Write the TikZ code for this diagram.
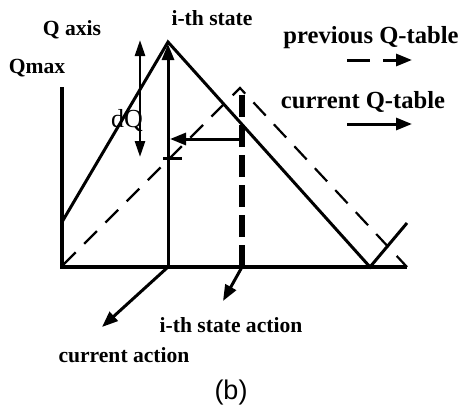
\documentclass[tikz,border=0pt]{standalone}
\usepackage{fontspec}
\setmainfont{Liberation Serif}
\setsansfont{Liberation Sans}
\usetikzlibrary{arrows.meta}
\begin{document}
\begin{tikzpicture}[x=0.5pt, y=-0.5pt,
    lbl/.style={font=\bfseries\fontsize{10.8}{12}\selectfont, inner sep=0pt},
    keylbl/.style={font=\bfseries\fontsize{12.3}{14}\selectfont, inner sep=0pt},
    curr/.style={line width=1.5pt},
    prev/.style={line width=1.1pt, dash pattern=on 9pt off 6pt},
    tip/.style={-{Triangle[length=8pt,width=6pt]}}]
  \useasboundingbox (0,0) rectangle (465,412);
  % axes
  \coordinate (O) at (62,267);
  \coordinate (cur) at (168,267);
  \coordinate (ist) at (242,267);
  \draw[line width=1.6pt] (62,87) -- (O) -- (407,267);
  % previous and current Q-table
  \draw[prev] (63,265) -- (240,88) -- (407,267);
  \draw[curr, line join=miter] (62,222) -- (168,42) -- (370,267) -- (407,223);
  % i-th state
  \coordinate (top) at (168,44);
  \coordinate (itop) at (242,92);
  \coordinate (knee) at (242,139);
  \coordinate (old) at (170,139);
  \draw[curr, tip] (cur) -- (top);
  \draw[line width=3pt, dash pattern=on 11pt off 4pt] (ist) -- (itop);
  \draw[curr, tip] (knee) -- (old);
  \draw[curr] (163,158) -- (182,158);
  % dQ
  \coordinate (dq1) at (140,40);
  \coordinate (dq2) at (140,157);
  \draw[line width=1.3pt, {Triangle[length=8pt,width=5pt]}-{Triangle[length=8pt,width=5pt]}] (dq1) -- (dq2);
  \node[font=\fontsize{13}{14}\selectfont, inner sep=0pt] (dq) at (127,121) {dQ};
  % labels
  \node[lbl] (qaxis) at (72,30) {Q axis};
  \node[lbl] (qmax) at (37,68) {Qmax};
  \node[lbl] (state) at (212,18) {i-th state};
  \node[lbl] (sact) at (231,325) {i-th state action};
  \node[lbl] (cact) at (124,355) {current action};
  \coordinate (sa) at (223,301);
  \coordinate (ca) at (102,327);
  \draw[curr, tip] (ist) -- (sa);
  \draw[curr, tip] (cur) -- (ca);
  % key
  \node[keylbl] (prevkey) at (371,38) {previous Q-table};
  \node[keylbl] (currkey) at (363,102) {current Q-table};
  \coordinate (p1) at (347,60);
  \coordinate (p2) at (412,60);
  \coordinate (c1) at (347,124);
  \coordinate (c2) at (412,124);
  \draw[curr, tip, dash pattern=on 11.5pt off 6.5pt] (p1) -- (p2);
  \draw[curr, tip] (c1) -- (c2);
  \node[font=\sffamily\fontsize{13.5}{15}\selectfont, inner sep=0pt] (cap) at (231,393) {(b)};
\end{tikzpicture}
\end{document}
